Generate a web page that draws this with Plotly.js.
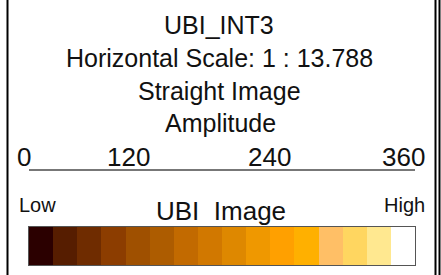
<!DOCTYPE html>
<html><head><meta charset="utf-8">
<script src="https://cdn.plot.ly/plotly-3.0.1.min.js"></script>
<style>html,body{margin:0;padding:0;background:#fff;}#chart{width:441px;height:275px;}</style>
</head><body><div id="chart"></div>
<script>
// ---- data ----
var titleLines = ["UBI_INT3", "Horizontal Scale: 1 : 13.788", "Straight Image"];
var axisTitle = "Amplitude";
var amplitudeTicks = [0, 120, 240, 360];
var amplitudeTickText = ["0", "120", "240", "360"];
var colorbarTitle = "UBI  Image";
var lowLabel = "Low";
var highLabel = "High";
var cellIndex = [0,1,2,3,4,5,6,7,8,9,10,11,12,13,14,15];
var cellColors = ["#2b0000","#561d00","#6f2c00","#8c3d00","#9f5000","#ad5c00","#c26a00","#d17800",
                  "#de8800","#ef9800","#ffa000","#ffb000","#ffbf66","#ffd660","#ffe890","#ffffff"];

// ---- layout helpers (pixel -> paper) ----
var W = 441, H = 275;
function px(x){ return x / W; }
function py(y){ return 1 - y / H; }

var n = cellColors.length;
var cs = [];
cellColors.forEach(function(c, i){ cs.push([i / n, c]); cs.push([(i + 1) / n, c]); });

var font = "Liberation Sans, Arial, sans-serif";
var tickCenters = [24, 128, 269, 403];

var annotations = [];
var titleY = [25, 58, 91];
var titleSize = [25, 25, 25];
titleLines.forEach(function(t, i){
  annotations.push({text: t, x: px(219), y: py(titleY[i]), xref: 'paper', yref: 'paper',
    showarrow: false, xanchor: 'center', yanchor: 'middle', font: {family: font, size: titleSize[i], color: '#111'}});
});
annotations.push({text: axisTitle, x: px(221), y: py(123), xref: 'paper', yref: 'paper',
  showarrow: false, xanchor: 'center', yanchor: 'middle', font: {family: font, size: 25, color: '#111'}});
amplitudeTickText.forEach(function(t, i){
  annotations.push({text: t, x: px(tickCenters[i]), y: py(157), xref: 'paper', yref: 'paper',
    showarrow: false, xanchor: 'center', yanchor: 'middle', font: {family: font, size: 26, color: '#111'}});
});
annotations.push({text: lowLabel, x: px(17), y: py(205), xref: 'paper', yref: 'paper',
  showarrow: false, xanchor: 'left', yanchor: 'middle', font: {family: font, size: 20, color: '#111'}});
annotations.push({text: highLabel, x: px(427), y: py(205), xref: 'paper', yref: 'paper',
  showarrow: false, xanchor: 'right', yanchor: 'middle', font: {family: font, size: 20, color: '#111'}});
annotations.push({text: colorbarTitle, x: px(221), y: py(211), xref: 'paper', yref: 'paper',
  showarrow: false, xanchor: 'center', yanchor: 'middle', font: {family: font, size: 26, color: '#111'}});

var data = [{
  type: 'heatmap',
  x: cellIndex,
  y: [0],
  z: [cellIndex],
  zmin: -0.5, zmax: n - 0.5,
  colorscale: cs,
  showscale: false,
  hoverinfo: 'skip',
  xaxis: 'x', yaxis: 'y'
}];

var layout = {
  width: W, height: H,
  margin: {l: 0, r: 0, t: 0, b: 0},
  paper_bgcolor: '#fff', plot_bgcolor: '#fff',
  showlegend: false,
  xaxis: {domain: [px(29), px(415)], range: [-0.5, n - 0.5], showgrid: false, zeroline: false,
          showticklabels: false, ticks: '', showline: true, mirror: true, linecolor: '#555', linewidth: 1, fixedrange: true},
  yaxis: {domain: [py(265), py(227)], range: [-0.5, 0.5], showgrid: false, zeroline: false,
          showticklabels: false, ticks: '', showline: true, mirror: true, linecolor: '#555', linewidth: 1, fixedrange: true},
  xaxis2: {domain: [px(29), px(415)], range: [amplitudeTicks[0], amplitudeTicks[amplitudeTicks.length - 1]],
           anchor: 'y2', showgrid: false, zeroline: false, showticklabels: false, ticks: '',
           showline: true, linecolor: '#777', linewidth: 1.5, fixedrange: true},
  yaxis2: {domain: [py(169), py(160)], range: [0, 1], anchor: 'x2', visible: false, fixedrange: true},
  annotations: annotations,
  shapes: [
    {type: 'line', xref: 'paper', yref: 'paper', x0: px(7.5), x1: px(7.5), y0: 0, y1: 1, line: {color: '#000', width: 2}},
    {type: 'line', xref: 'paper', yref: 'paper', x0: px(435.5), x1: px(435.5), y0: 0, y1: 1, line: {color: '#000', width: 2}},
    {type: 'line', xref: 'paper', yref: 'paper', x0: px(439.5), x1: px(439.5), y0: 0, y1: 1, line: {color: '#000', width: 2}}
  ]
};

// invisible trace to anchor the amplitude axis
data.push({type: 'scatter', x: amplitudeTicks, y: [0,0,0,0], mode: 'markers', marker: {opacity: 0},
  xaxis: 'x2', yaxis: 'y2', hoverinfo: 'skip'});

Plotly.newPlot('chart', data, layout, {staticPlot: true, displayModeBar: false});
</script>
</body></html>
